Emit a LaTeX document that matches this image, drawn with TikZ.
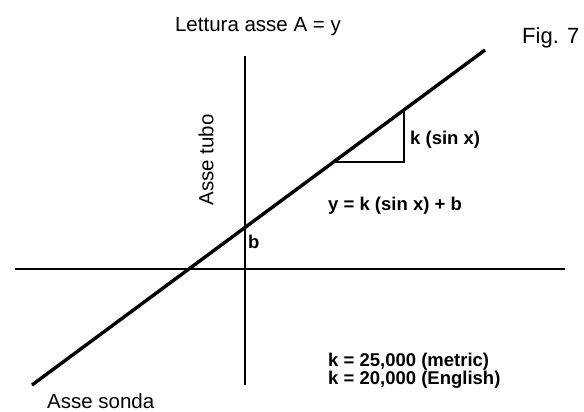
\documentclass[tikz,border=0pt]{standalone}
\usepackage{fontspec}
\setmainfont{Liberation Sans}
\usepackage{tikz}
\usetikzlibrary{positioning, calc}

\begin{document}
\begin{tikzpicture}[
    x=1pt, y=-1pt,
    axis/.style={draw, line width=1.4pt},
    probe/.style={draw, line width=3.4pt},
    label/.style={inner sep=0pt, font=\fontsize{20.5}{22}\selectfont},
    formula/.style={inner sep=0pt, align=left, font=\bfseries\fontsize{18.5}{17}\selectfont}
  ]
  \useasboundingbox (0,0) rectangle (584,412);

  % Points
  \coordinate (tubetop) at (245,56);
  \coordinate (tubebot) at (245,385);
  \coordinate (sondaleft) at (15,269);
  \coordinate (sondaright) at (565,269);
  \coordinate (linelow) at (32,385);
  \coordinate (linehigh) at (485,50);
  \coordinate (trileft) at (335,162);
  \coordinate (tricorner) at (404,162);
  \coordinate (tritop) at (404,110);

  % Nodes
  \node[label, anchor=base] (reading) at (258,32) {Lettura asse A = y};
  \node[label, anchor=base west, font=\fontsize{22}{24}\selectfont] (fig) at (522,44) {Fig. 7};
  \node[label, rotate=90] (tube) at (206,160) {Asse tubo};
  \node[label, anchor=base west] (sonda) at (47,408) {Asse sonda};
  \node[formula, anchor=west] (slope) at (410,140) {k (sin x)};
  \node[formula, anchor=west] (eqn) at (328,206) {y = k (sin x) + b};
  \node[formula, anchor=west] (offset) at (248,242) {b};
  \node[formula, anchor=west] (kvals) at (328,371) {k = 25,000 (metric)\\k = 20,000 (English)};

  % Lines
  \draw[axis] (tubetop) -- (tubebot);
  \draw[axis] (sondaleft) -- (sondaright);
  \draw[axis] (trileft) -- (tricorner) -- (tritop);
  \draw[probe] (linelow) -- (linehigh);
\end{tikzpicture}
\end{document}
